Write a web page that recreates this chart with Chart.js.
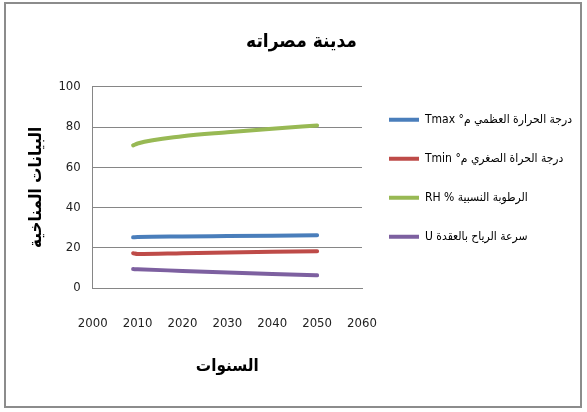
<!DOCTYPE html>
<html>
<head>
<meta charset="utf-8">
<script src="https://cdn.jsdelivr.net/npm/chart.js@4.4.0/dist/chart.umd.min.js"></script>
<style>
  html, body { margin: 0; padding: 0; background: #fff; }
  #wrap { width: 587px; height: 412px; position: relative; }
</style>
</head>
<body>
<div id="wrap"><canvas id="chart" width="587" height="412"></canvas></div>
<script>
const years = [2009, 2010, 2020, 2030, 2040, 2050];
const tmax = [25.2, 25.3, 25.6, 25.8, 26.0, 26.2];
const tmin = [17.3, 16.9, 17.3, 17.7, 18.0, 18.3];
const rh = [70.9, 71.8, 75.4, 77.4, 79.2, 80.8];
const wind = [9.4, 9.3, 8.5, 7.7, 7.0, 6.3];
const seriesNames = [
  'درجة الحرارة العظمي م° Tmax',
  'درجة الحراة الصغري م° Tmin',
  'الرطوبة النسبية % RH',
  'سرعة الرياح بالعقدة U'
];
const xTicks = [2000, 2010, 2020, 2030, 2040, 2050, 2060];

const arabic = "'DejaVu Sans Condensed', 'DejaVu Sans', sans-serif";
const latin = "'Liberation Sans Narrow', 'DejaVu Sans Condensed', sans-serif";

function pts(vals) {
  return years.map((y, i) => ({x: y, y: vals[i]}));
}
function series(label, vals, color) {
  return {
    label: label,
    data: pts(vals),
    borderColor: color,
    backgroundColor: color,
    borderWidth: 4,
    borderCapStyle: 'round',
    pointRadius: 0,
    cubicInterpolationMode: 'monotone'
  };
}

const frame = {
  id: 'frame',
  beforeDraw(chart) {
    const ctx = chart.ctx;
    ctx.save();
    ctx.fillStyle = '#fff';
    ctx.fillRect(0, 0, chart.width, chart.height);
    ctx.strokeStyle = '#8c8c8c';
    ctx.lineWidth = 2;
    ctx.strokeRect(5, 3, 576, 404);
    ctx.restore();
  }
};

new Chart(document.getElementById('chart'), {
  type: 'line',
  data: {
    datasets: [
      series(seriesNames[0], tmax, '#4a7ebb'),
      series(seriesNames[1], tmin, '#be4b48'),
      series(seriesNames[2], rh, '#98b954'),
      series(seriesNames[3], wind, '#7d60a0')
    ]
  },
  options: {
    responsive: false,
    animation: false,
    layout: { padding: { left: 26, right: 10, top: 31, bottom: 31 } },
    plugins: {
      title: {
        display: true,
        text: 'مدينة مصراته',
        color: '#000',
        font: { family: arabic, size: 19, weight: 'bold' },
        padding: { top: 0, bottom: 33 }
      },
      legend: {
        position: 'right',
        align: 'start',
        fullSize: false,
        textDirection: 'rtl',
        maxWidth: 215,
        labels: {
          usePointStyle: true,
          pointStyle: 'line',
          pointStyleWidth: 30,
          color: '#000',
          padding: 27,
          font: { family: arabic, size: 12 }
        }
      },
      tooltip: { enabled: false }
    },
    scales: {
      x: {
        type: 'linear',
        min: 2000,
        max: 2060,
        afterBuildTicks: (axis) => { axis.ticks = xTicks.map(v => ({value: v})); },
        ticks: {
          color: '#222',
          font: { family: latin, size: 13 },
          maxRotation: 0,
          padding: 20,
          callback: (v) => String(v)
        },
        grid: { display: false },
        border: { display: true, color: '#868686' },
        title: {
          display: true,
          text: 'السنوات',
          color: '#000',
          font: { family: arabic, size: 17, weight: 'bold' },
          padding: { top: 5 }
        }
      },
      y: {
        min: 0,
        max: 100,
        ticks: {
          stepSize: 20,
          color: '#222',
          font: { family: latin, size: 13 },
          padding: 12
        },
        grid: { color: '#868686', drawTicks: false },
        border: { display: true, color: '#868686' },
        title: {
          display: true,
          text: 'البيانات المناخية',
          color: '#000',
          font: { family: arabic, size: 17, weight: 'bold' },
          padding: 0
        }
      }
    }
  },
  plugins: [frame]
});
</script>
</body>
</html>
